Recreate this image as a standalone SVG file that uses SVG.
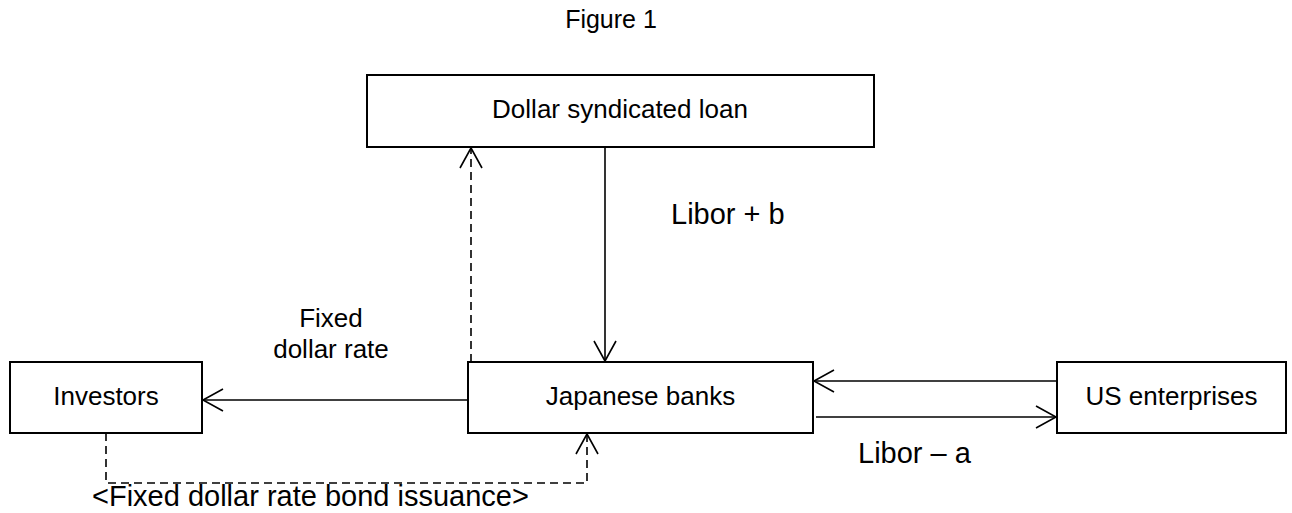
<svg xmlns="http://www.w3.org/2000/svg" width="1292" height="513" viewBox="0 0 1292 513">
  <style>
    text { font-family: "Liberation Sans", Arial, sans-serif; fill: #000; }
    .box { fill: #fff; stroke: #000; stroke-width: 2; }
    .lbl { font-size: 26px; text-anchor: middle; }
    .note { font-size: 29px; }
    .flow { fill: none; stroke: #000; stroke-width: 1.6; }
    .dash { stroke-dasharray: 8 5; }
  </style>
  <defs>
    <marker id="open" viewBox="0 0 24 24" refX="22" refY="12" markerWidth="24" markerHeight="24" markerUnits="userSpaceOnUse" orient="auto">
      <path d="M2 1 L22 12 L2 23" fill="none" stroke="#000" stroke-width="1.6"/>
    </marker>
  </defs>
  <rect width="1292" height="513" fill="#fff"/>

  <text x="611" y="28" style="font-size:25px" text-anchor="middle">Figure 1</text>

  <g id="loan">
    <rect class="box" x="367" y="75" width="507" height="72"/>
    <text class="lbl" x="620" y="118">Dollar syndicated loan</text>
  </g>
  <g id="investors">
    <rect class="box" x="10" y="362" width="192" height="71"/>
    <text class="lbl" x="106" y="405">Investors</text>
  </g>
  <g id="banks">
    <rect class="box" x="468" y="362" width="345" height="71"/>
    <text class="lbl" x="640.5" y="405">Japanese banks</text>
  </g>
  <g id="us">
    <rect class="box" x="1057" y="362" width="229" height="71"/>
    <text class="lbl" x="1171.5" y="405">US enterprises</text>
  </g>

  <g id="connectors">
    <path class="flow" d="M605 147 V361" marker-end="url(#open)"/>
    <path class="flow dash" d="M471 362 V148" marker-end="url(#open)"/>
    <path class="flow" d="M468 400 H203" marker-end="url(#open)"/>
    <path class="flow" d="M1057 381 H814" marker-end="url(#open)"/>
    <path class="flow" d="M816 417 H1056" marker-end="url(#open)"/>
    <path class="flow dash" d="M106 433 V483 H587 V434" marker-end="url(#open)"/>
  </g>

  <g id="labels">
    <text class="note" x="671" y="224">Libor + b</text>
    <text class="note" x="858" y="463">Libor – a</text>
    <text class="lbl" x="331" y="327">Fixed</text>
    <text class="lbl" x="331" y="358">dollar rate</text>
    <text style="font-size:29px" x="92" y="506">&lt;Fixed dollar rate bond issuance&gt;</text>
  </g>
</svg>
